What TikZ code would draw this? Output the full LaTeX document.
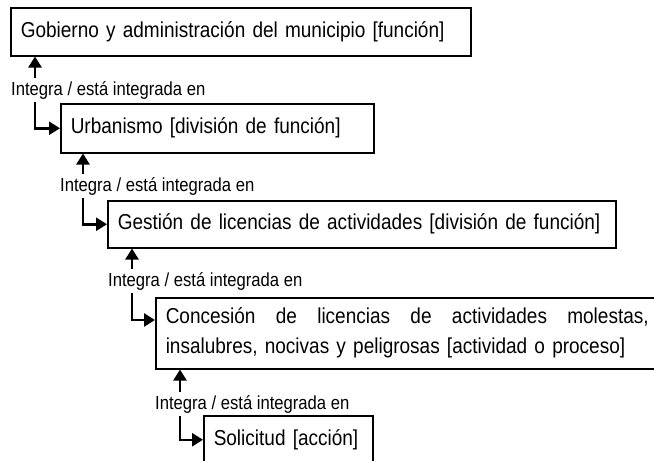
\documentclass[tikz,border=0pt]{standalone}
\usepackage{fontspec}
\setmainfont{Liberation Sans}[FakeStretch=0.88]
\usetikzlibrary{arrows.meta,positioning,calc}
\tikzset{box/.style={draw,line width=1.5pt,inner xsep=10pt,inner ysep=0pt,align=left,anchor=north west,font=\fontsize{21.6}{30}\selectfont},flow/.style={-{Triangle[length=11pt,width=13pt]},line width=2.5pt},lab/.style={font=\fontsize{18.9}{22}\selectfont,inner xsep=0pt,inner ysep=3pt,anchor=west}}
\begin{document}
\begin{tikzpicture}[x=1pt,y=-1pt]
\useasboundingbox (0,0) rectangle (654,461);
\clip (0,0) rectangle (654,461);
\node[box,text width=440pt,minimum height=48pt] (f1) at (10,7) {Gobierno y administración del municipio [función]};
\node[lab] (l1) at (11,90) {Integra / está integrada en};
\node[box,text width=293pt,minimum height=49pt] (f2) at (60,103) {Urbanismo [división de función]};
\node[lab] (l2) at (60,186) {Integra / está integrada en};
\node[box,text width=488pt,minimum height=47pt] (f3) at (107,200) {Gestión de licencias de actividades [división de función]};
\node[lab] (l3) at (108,281) {Integra / está integrada en};
\node[box,text width=495pt,minimum height=71pt] (f4) at (155,297) {\makebox[483pt][s]{Concesión\hfill de\hfill licencias\hfill de\hfill actividades\hfill molestas,}\\insalubres, nocivas y peligrosas [actividad o proceso]};
\node[lab] (l4) at (155,404) {Integra / está integrada en};
\node[box,text width=149pt,minimum height=48pt] (f5) at (203,415) {Solicitud [acción]};
% integra / esta integrada en
\draw[flow] ([xshift=25pt]f1.south west |- l1.north) -- ([xshift=25pt]f1.south west);
\draw[flow] ([xshift=25pt]f1.south west |- l1.south) |- (f2.west);
\draw[flow] ([xshift=23pt]f2.south west |- l2.north) -- ([xshift=23pt]f2.south west);
\draw[flow] ([xshift=23pt]f2.south west |- l2.south) |- (f3.west);
\draw[flow] ([xshift=25pt]f3.south west |- l3.north) -- ([xshift=25pt]f3.south west);
\draw[flow] ([xshift=25pt]f3.south west |- l3.south) |- ([yshift=-23pt]f4.north west);
\draw[flow] ([xshift=25pt]f4.south west |- l4.north) -- ([xshift=25pt]f4.south west);
\draw[flow] ([xshift=25pt]f4.south west |- l4.south) |- (f5.west);
\end{tikzpicture}
\end{document}
